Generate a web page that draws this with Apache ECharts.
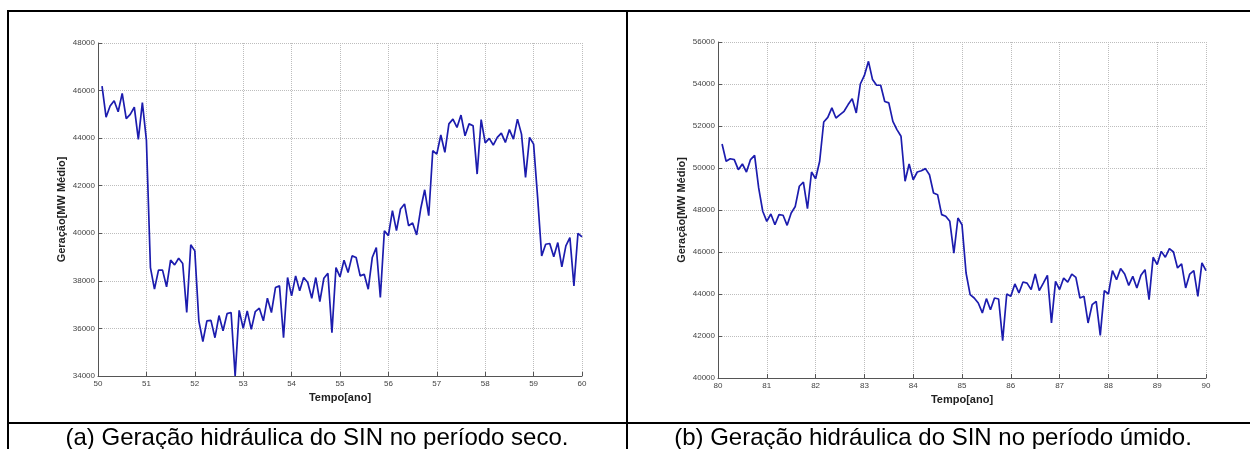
<!DOCTYPE html>
<html>
<head>
<meta charset="utf-8">
<script src="https://cdn.jsdelivr.net/npm/echarts@6/dist/echarts.min.js"></script>
<style>
  html, body { margin: 0; padding: 0; background: #fff; }
  #chart { width: 1250px; height: 449px; }
</style>
</head>
<body>
<div id="chart"></div>
<script>
// monthly values, first point = start year + 1/12, last = end year
const secoInicio = 50;
const secoValores = [
  46190, 44880, 45350, 45575, 45110, 45885, 44820, 45000, 45300, 43950, 45490, 43920,
  38560, 37650, 38450, 38450, 37750, 38870, 38670, 38950, 38730, 36670, 39520, 39260,
  36320, 35450, 36320, 36340, 35610, 36540, 35900, 36620, 36670, 34000, 36760, 36000,
  36740, 35960, 36710, 36850, 36320, 37270, 36670, 37720, 37790, 35610, 38140, 37370,
  38210, 37580, 38140, 37930, 37270, 38140, 37130, 38110, 38320, 35820, 38560, 38170,
  38870, 38350, 39050, 38980, 38210, 38280, 37650, 38980, 39400, 37300, 40100, 39900,
  40950, 40110, 41020, 41230, 40320, 40430, 39930, 41020, 41830, 40740, 43470, 43330,
  44130, 43400, 44600, 44800, 44450, 44970, 44100, 44600, 44520, 42490, 44780, 43800,
  43990, 43710, 44030, 44210, 43820, 44360, 43960, 44800, 44170, 42350, 44030, 43750,
  41500, 39050, 39540, 39570, 39010, 39610, 38590, 39470, 39820, 37790, 40000, 39850
];

const umidoInicio = 80;
const umidoValores = [
  51140, 50320, 50440, 50400, 49920, 50190, 49810, 50400, 50600, 49050, 47940, 47460,
  47810, 47300, 47780, 47750, 47270, 47860, 48170, 49130, 49330, 48060, 49810, 49490,
  50320, 52190, 52410, 52860, 52380, 52540, 52700, 53020, 53300, 52620, 54000, 54410,
  55080, 54210, 53940, 53940, 53170, 53100, 52220, 51830, 51510, 49370, 50190, 49440,
  49810, 49870, 49970, 49680, 48810, 48730, 47780, 47700, 47460, 45950, 47620, 47300,
  45000, 43970, 43810, 43570, 43100, 43780, 43250, 43810, 43760, 41780, 44000, 43890,
  44480, 44050, 44570, 44520, 44210, 44950, 44160, 44520, 44890, 42620, 44600, 44210,
  44760, 44570, 44950, 44790, 43810, 43890, 42620, 43490, 43650, 42030, 44160, 44000,
  45110, 44680, 45210, 44950, 44410, 44840, 44290, 44890, 45160, 43730, 45750, 45400,
  46030, 45750, 46160, 46000, 45240, 45430, 44290, 44950, 45110, 43890, 45480, 45110
];

const secoEixoY = { min: 34000, max: 48000, intervalo: 2000 };
const umidoEixoY = { min: 40000, max: 56000, intervalo: 2000 };

const nomeX = 'Tempo[ano]';
const nomeY = 'Geração[MW Médio]';
const legendaA = '(a) Geração hidráulica do SIN no período seco.';
const legendaB = '(b) Geração hidráulica do SIN no período úmido.';

function pares(inicio, valores) {
  return valores.map((v, i) => [inicio + (i + 1) / 12, v]);
}

const chart = echarts.init(document.getElementById('chart'), null, { renderer: 'canvas' });

const corEixo = '#555';
const corGrade = '#bdbdbd';
const fonte = 'Liberation Sans';

function eixoX(idx, min) {
  return {
    gridIndex: idx,
    type: 'value',
    min: min,
    max: min + 10,
    interval: 1,
    name: nomeX,
    nameLocation: 'middle',
    nameGap: 13,
    nameTextStyle: { fontFamily: fonte, fontSize: 11, fontWeight: 'bold', color: '#222' },
    axisLine: { lineStyle: { color: corEixo, width: 1 } },
    axisTick: { inside: true, length: 4, lineStyle: { color: corEixo } },
    axisLabel: { fontFamily: fonte, fontSize: 8, color: '#444', margin: 4, formatter: v => String(v) },
    splitLine: { show: true, lineStyle: { type: 'dotted', color: corGrade, width: 1 } }
  };
}

function eixoY(idx, cfg) {
  return {
    gridIndex: idx,
    type: 'value',
    min: cfg.min,
    max: cfg.max,
    interval: cfg.intervalo,
    name: nomeY,
    nameLocation: 'middle',
    nameGap: 31,
    nameTextStyle: { fontFamily: fonte, fontSize: 11, fontWeight: 'bold', color: '#222' },
    axisLine: { show: true, lineStyle: { color: corEixo, width: 1 } },
    axisTick: { show: true, inside: true, length: 4, lineStyle: { color: corEixo } },
    axisLabel: { fontFamily: fonte, fontSize: 8, color: '#444', margin: 3, formatter: v => String(v) },
    splitLine: { show: true, lineStyle: { type: 'dotted', color: corGrade, width: 1 } }
  };
}

function serie(idx, dados) {
  return {
    type: 'line',
    xAxisIndex: idx,
    yAxisIndex: idx,
    data: dados,
    symbol: 'none',
    animation: false,
    lineStyle: { color: '#1c1cae', width: 1.7 }
  };
}

const option = {
  backgroundColor: '#fff',
  animation: false,
  grid: [
    { left: 98, top: 43, width: 484, height: 333 },
    { left: 718, top: 42, width: 488, height: 336 }
  ],
  xAxis: [eixoX(0, secoInicio), eixoX(1, umidoInicio)],
  yAxis: [eixoY(0, secoEixoY), eixoY(1, umidoEixoY)],
  series: [serie(0, pares(secoInicio, secoValores)), serie(1, pares(umidoInicio, umidoValores))],
  graphic: [
    { type: 'line', shape: { x1: 7, y1: 11, x2: 1250, y2: 11 }, style: { stroke: '#000', lineWidth: 2 } },
    { type: 'line', shape: { x1: 8, y1: 10, x2: 8, y2: 449 }, style: { stroke: '#000', lineWidth: 2 } },
    { type: 'line', shape: { x1: 627, y1: 10, x2: 627, y2: 449 }, style: { stroke: '#000', lineWidth: 2 } },
    { type: 'line', shape: { x1: 7, y1: 423, x2: 1250, y2: 423 }, style: { stroke: '#000', lineWidth: 2 } },
    { type: 'text', x: 317, y: 438, style: { text: legendaA, font: '24px "Liberation Sans"', fill: '#000', align: 'center', verticalAlign: 'middle' } },
    { type: 'text', x: 933, y: 438, style: { text: legendaB, font: '24px "Liberation Sans"', fill: '#000', align: 'center', verticalAlign: 'middle' } }
  ]
};

chart.setOption(option);
</script>
</body>
</html>
